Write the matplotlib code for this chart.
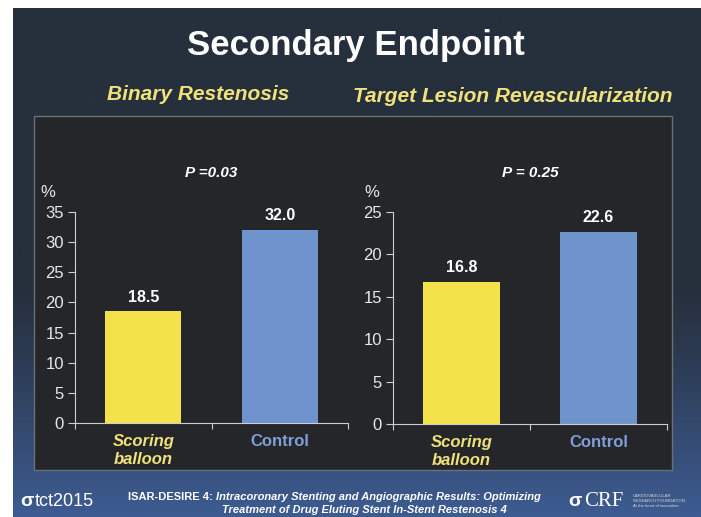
import numpy as np
import matplotlib
matplotlib.use("Agg")
import matplotlib.pyplot as plt
from matplotlib.patches import Rectangle

plt.rcParams['font.family'] = ['Liberation Sans', 'DejaVu Sans']

# data
categories = ["Scoring\nballoon", "Control"]
restenosis = [18.5, 32.0]
tlr = [16.8, 22.6]
p_values = ["P =0.03", "P = 0.25"]
panel_titles = ["Binary Restenosis", "Target Lesion Revascularization"]
yticks_left = [0, 5, 10, 15, 20, 25, 30, 35]
yticks_right = [0, 5, 10, 15, 20, 25]

bar_colors = ["#f3e24a", "#6f93cd"]
label_colors = ["#f0e27a", "#7f9fd6"]
W, H = 701, 517

fig = plt.figure(figsize=(7.01, 5.17), dpi=100)
fig.patch.set_facecolor("white")

# slide background with gradient
bg = fig.add_axes([0, 0, 1, 1])
bg.set_xlim(0, W)
bg.set_ylim(H, 0)
bg.axis("off")
top = np.array([0x26, 0x2f, 0x3c]) / 255
bot = np.array([0x3d, 0x5c, 0x92]) / 255
t = np.linspace(0, 1, 200)
t = np.clip((t - 0.55) / 0.45, 0, 1) ** 1.1
grad = top[None, :] * (1 - t[:, None]) + bot[None, :] * t[:, None]
bg.imshow(grad[:, None, :], extent=(13, W, H, 8), aspect="auto", zorder=0)
bg.add_patch(Rectangle((34, 116), 638, 354, facecolor="#242629",
                       edgecolor="#6b6f76", lw=1.0, zorder=1))

fig.text(356 / W, 1 - 46 / H, "Secondary Endpoint", color="white", fontsize=25,
         fontweight="bold", ha="center", va="center")
fig.text(198 / W, 1 - 95 / H, panel_titles[0], color="#f0e27a", fontsize=15,
         fontweight="bold", style="italic", ha="center", va="center")
fig.text(513 / W, 1 - 97 / H, panel_titles[1], color="#f0e27a", fontsize=15,
         fontweight="bold", style="italic", ha="center", va="center")


def draw_panel(rect, values, yticks, ymax, ptext, pct_x):
    ax = fig.add_axes(rect)
    ax.patch.set_alpha(0)
    x = np.arange(len(values))
    bars = ax.bar(x, values, width=0.56, color=bar_colors, zorder=2)
    ax.set_xlim(-0.5, 1.5)
    ax.set_ylim(0, ymax)
    ax.set_yticks(yticks)
    ax.set_yticklabels([str(v) for v in yticks], fontsize=12, color="#e8e8e8")
    ax.set_xticks([-0.5, 0.5, 1.5])
    ax.set_xticklabels([])
    ax.tick_params(axis="y", colors="#cfcfcf", length=5, width=0.8,
                   labelcolor="#e8e8e8", pad=3)
    ax.tick_params(axis="x", colors="#cfcfcf", length=4, width=0.8)
    for s in ["top", "right"]:
        ax.spines[s].set_visible(False)
    for s in ["left", "bottom"]:
        ax.spines[s].set_color("#cfcfcf")
        ax.spines[s].set_linewidth(0.8)
    for b, v in zip(bars, values):
        ax.annotate(f"{v:.1f}", (b.get_x() + b.get_width() / 2, v),
                    xytext=(0, 5), textcoords="offset points", ha="center",
                    va="bottom", color="white", fontsize=11.5, fontweight="bold")
    for i, (c, col) in enumerate(zip(categories, label_colors)):
        ax.annotate(c, (i, 0), xytext=(0, -8),
                    textcoords="offset points", ha="center", va="top",
                    color=col, fontsize=12, fontweight="bold",
                    style="italic" if i == 0 else "normal", linespacing=1.25)
    ax.text(0.5, 1.15, ptext, transform=ax.transAxes, ha="center", va="bottom",
            color="white", fontsize=11, fontweight="bold", style="italic")
    fig.text(pct_x / W, 1 - 192 / H, "%", color="#e8e8e8", fontsize=12,
             ha="center", va="center")
    return ax


ax1 = draw_panel([75 / W, 1 - 423 / H, 273 / W, 211 / H], restenosis,
                 yticks_left, 35, p_values[0], 48)
ax2 = draw_panel([393 / W, 1 - 424 / H, 274 / W, 212 / H], tlr,
                 yticks_right, 25, p_values[1], 372)

# footer
fig.text(20 / W, 1 - 501 / H, "\u03c3", color="white", fontsize=14,
         ha="left", va="center", fontweight="bold")
fig.text(35 / W, 1 - 501 / H, "tct2015", color="white", fontsize=13,
         ha="left", va="center")
renderer = fig.canvas.get_renderer()
t1 = fig.text(128 / W, 1 - 497 / H, "ISAR-DESIRE 4: ", color="white",
              fontsize=8, ha="left", va="center", fontweight="bold")
w1 = t1.get_window_extent(renderer).width
fig.text((128 + w1) / W, 1 - 497 / H,
         "Intracoronary Stenting and Angiographic Results: Optimizing",
         color="white", fontsize=8, ha="left", va="center",
         fontweight="bold", style="italic")
fig.text(364 / W, 1 - 510 / H,
         "Treatment of Drug Eluting Stent In-Stent Restenosis 4",
         color="white", fontsize=8, ha="center", va="center",
         style="italic", fontweight="bold")
fig.text(568 / W, 1 - 502 / H, "\u03c3", color="white", fontsize=14,
         ha="left", va="center", fontweight="bold")
fig.text(584 / W, 1 - 502 / H, "CRF", color="white", fontsize=15,
         ha="left", va="center", fontfamily=["Liberation Serif", "DejaVu Serif"])
fig.text(633 / W, 1 - 501 / H,
         "CARDIOVASCULAR\nRESEARCH FOUNDATION\nAt the heart of innovation",
         color="#d8d8d8", fontsize=3, ha="left", va="center", linespacing=1.2)

fig.savefig("out.png", dpi=100, facecolor=fig.get_facecolor())
